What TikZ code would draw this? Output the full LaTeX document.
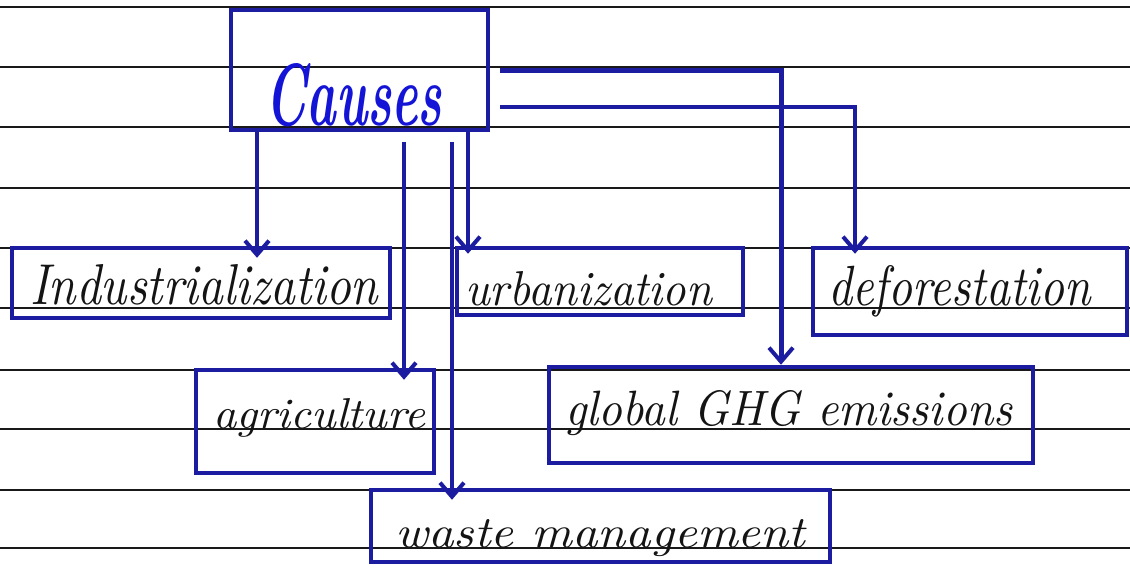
\documentclass[tikz,border=0pt]{standalone}
\usetikzlibrary{arrows.meta}
\definecolor{ink}{RGB}{28,28,160}
\definecolor{causeblue}{RGB}{20,20,215}
\definecolor{pen}{RGB}{20,20,20}
\begin{document}
\begin{tikzpicture}[x=1pt,y=-1pt,
  ruled/.style={line width=2.6pt,black!90},
  box/.style={draw=ink,line width=4.5pt,inner sep=0pt,line join=miter},
  arr/.style={draw=ink,line width=4pt,-{Straight Barb[length=14pt,width=24pt,line width=4pt]},shorten >=-12pt},
  lbl/.style={anchor=base west,inner sep=0pt,text=pen}]
\useasboundingbox (0,0) rectangle (1130,579);
\fill[white] (0,0) rectangle (1130,579);
% ruled paper lines
\foreach \y in {7,67,127,188,248,308,370,429,490,548}
  \draw[ruled] (0,\y) -- (1130,\y);
% boxes
\node[box,minimum width=257pt,minimum height=120pt] (causes) at (359.5,70) {};
\node[box,minimum width=378pt,minimum height=70pt] (indus) at (201,283) {};
\node[box,minimum width=286pt,minimum height=67pt] (urban) at (600,281.5) {};
\node[box,minimum width=314pt,minimum height=87pt] (defor) at (970,291.5) {};
\node[box,minimum width=238pt,minimum height=103pt] (agri) at (315,421.5) {};
\node[box,minimum width=484pt,minimum height=96pt] (ghg) at (791,415) {};
\node[box,minimum width=459pt,minimum height=72pt] (waste) at (600.5,526) {};
% texts
\node[lbl,text=causeblue] (tcauses) at (265,125) {\resizebox{177pt}{62pt}{\bfseries\itshape Causes}};
\node[lbl] (tindus) at (30,304) {\resizebox{348pt}{40pt}{\itshape Industrialization}};
\node[lbl] (turban) at (465,305) {\resizebox{247pt}{34pt}{\itshape urbanization}};
\node[lbl] (tdefor) at (828,305) {\resizebox{262pt}{40pt}{\itshape deforestation}};
\node[lbl] (tagri) at (213,428) {\resizebox{212pt}{30pt}{\itshape agriculture}};
\node[lbl] (tghg) at (565,425) {\resizebox{447pt}{35pt}{\itshape global GHG emissions}};
\node[lbl] (twaste) at (395,547) {\resizebox{410pt}{28pt}{\itshape waste management}};
% connector x positions
\coordinate (x1) at (257,0);
\coordinate (x2) at (404,0);
\coordinate (x3) at (452,0);
\coordinate (x4) at (468,0);
\coordinate (x5) at (781,0);
\coordinate (x6) at (855,0);
\coordinate (y6) at (0,107);
% connectors
\draw[arr] (causes.south -| x1) -- (indus.north -| x1);
\draw[arr,shorten <=10pt] (causes.south -| x2) -- (agri.north -| x2);
\draw[arr,shorten <=10pt] (causes.south -| x3) -- (waste.north -| x3);
\draw[arr,shorten >=-8pt] (causes.south -| x4) -- (urban.north -| x4);
\draw[arr,line width=5pt,shorten >=0pt,shorten <=10pt] (causes.east) -| (ghg.north -| x5);
\draw[arr,line width=3.2pt,shorten <=10pt,shorten >=-8pt] (causes.east |- y6) -| (defor.north -| x6);
\end{tikzpicture}
\end{document}
